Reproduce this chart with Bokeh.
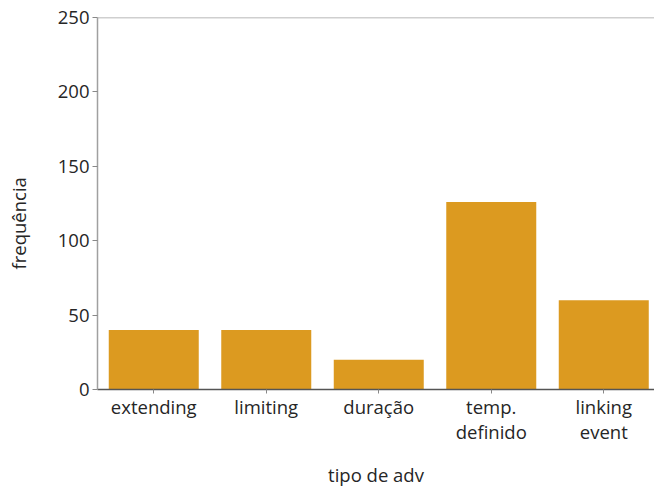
from bokeh.plotting import figure
from bokeh.models import Range1d, FixedTicker, Span, Title
from bokeh.embed import file_html
from bokeh.resources import INLINE

categories = ["extending", "limiting", "duração", "temp.\ndefinido", "linking\nevent"]
freq = [40, 40, 20, 126, 60]
y_ticks = [0, 50, 100, 150, 200, 250]

xs = list(range(len(categories)))
FONT = "Open Sans"
FS = "18.5px"
TXT = "#262626"

p = figure(width=672, height=489, output_backend="svg", toolbar_location=None,
           x_range=Range1d(-0.5, 4.451), y_range=Range1d(0, 250),
           min_border_left=115, min_border_right=0, min_border_top=17, min_border_bottom=99)
p.margin = (0, 0, 0, -18)

p.vbar(x=xs, top=freq, width=0.8, fill_color="#DC9A20", line_color=None)

p.xgrid.visible = False
p.ygrid.visible = False
p.outline_line_color = None
p.add_layout(Span(location=250, dimension="width", line_color="#a0a0a0", line_width=1.5))

p.xaxis.ticker = FixedTicker(ticks=xs)
p.xaxis.major_label_overrides = {i: c for i, c in zip(xs, categories)}
p.yaxis.ticker = FixedTicker(ticks=y_ticks)

for ax in (p.xaxis[0], p.yaxis[0]):
    ax.major_label_text_font = FONT
    ax.major_label_text_font_size = FS
    ax.major_label_text_color = TXT
    ax.axis_label_text_font = FONT
    ax.axis_label_text_font_size = FS
    ax.axis_label_text_font_style = "normal"
    ax.axis_label_text_color = TXT
    ax.minor_tick_line_color = None
    ax.major_tick_in = 0

p.xaxis.axis_label = "tipo de adv"
p.xaxis.axis_line_color = "#555555"
p.xaxis.axis_line_width = 1.5
p.xaxis.major_tick_out = 4
p.xaxis.major_tick_line_color = "#888888"
p.xaxis.major_label_standoff = 0
p.xaxis.major_label_text_line_height = 1.0
p.xaxis.axis_label_standoff = 15

p.yaxis.axis_line_color = "#a0a0a0"
p.yaxis.axis_line_width = 1.5
p.yaxis.major_tick_out = 5
p.yaxis.major_tick_line_color = "#888888"
p.yaxis.major_label_standoff = 3

p.add_layout(Title(text="frequência", align="left", offset=120, standoff=43,
                   vertical_align="top",
                   text_font=FONT, text_font_size=FS, text_font_style="normal",
                   text_color=TXT), "left")

open("out.html", "w").write(file_html(p, INLINE))
